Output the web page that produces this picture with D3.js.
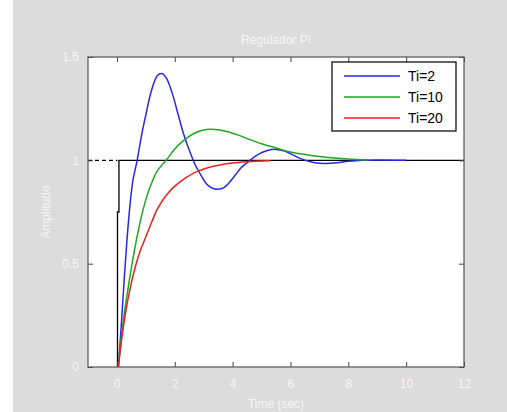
<!DOCTYPE html>
<html>
<head>
<meta charset="utf-8">
<script src="https://cdn.jsdelivr.net/npm/d3@7"></script>
<style>
  body { margin: 0; background: #fff; }
  svg { display: block; font-family: "Liberation Sans", Arial, sans-serif; }
  .axis text { fill: #f6f6f6; font-size: 12px; }
</style>
</head>
<body>
<svg id="chart"></svg>
<script>
// step responses, [t, amplitude]
const ti2 = [[0.05,0],[0.15,0.2],[0.25,0.42],[0.35,0.62],[0.45,0.78],[0.55,0.9],[0.7,1.0],[0.85,1.12],[1.0,1.22],
  [1.2,1.34],[1.4,1.41],[1.55,1.42],[1.7,1.4],[1.9,1.33],[2.1,1.23],[2.3,1.13],[2.5,1.05],[2.7,0.98],[2.9,0.93],
  [3.1,0.885],[3.3,0.865],[3.5,0.86],[3.7,0.868],[3.9,0.895],[4.1,0.93],[4.3,0.965],[4.6,1.0],[4.9,1.03],
  [5.2,1.048],[5.5,1.053],[5.8,1.045],[6.1,1.025],[6.4,1.006],[6.8,0.99],[7.2,0.985],[7.6,0.988],[8.0,0.995],
  [8.5,1.0],[9.0,1.002],[10.0,1.0]];
const ti10 = [[0.05,0],[0.2,0.2],[0.43,0.42],[0.6,0.56],[0.8,0.7],[1.0,0.81],[1.2,0.89],[1.4,0.95],[1.7,1.0],
  [2.0,1.055],[2.3,1.095],[2.6,1.125],[2.9,1.143],[3.2,1.15],[3.5,1.148],[3.8,1.14],[4.2,1.122],[4.6,1.1],
  [5.0,1.08],[5.5,1.06],[6.0,1.04],[6.5,1.028],[7.0,1.018],[7.5,1.011],[8.0,1.006],[8.7,1.002]];
const ti20 = [[0.05,0],[0.25,0.22],[0.52,0.42],[0.8,0.56],[1.0,0.63],[1.2,0.7],[1.4,0.765],[1.7,0.83],
  [2.0,0.875],[2.4,0.918],[2.8,0.948],[3.2,0.967],[3.6,0.979],[4.0,0.987],[4.5,0.993],[5.0,0.997],[5.3,0.998]];
const stepRef = [[0.02,0],[0.02,0.75],[0.07,0.75],[0.07,1],[12,1]];
const stepPre = [[-1,1],[0.02,1]];

const seriesNames = ["Ti=2", "Ti=10", "Ti=20"];
const seriesColors = ["#2727e6", "#1fa81f", "#e82020"];
const seriesData = [ti2, ti10, ti20];

const xTicks = [0, 2, 4, 6, 8, 10, 12];
const yTicks = [0, 0.5, 1, 1.5];

const W = 507, H = 412;
const svg = d3.select("#chart").attr("width", W).attr("height", H);

svg.append("rect").attr("x", 13).attr("y", 0).attr("width", W - 13).attr("height", H).attr("fill", "#dcdcdc");

const plot = {left: 88, top: 57, right: 464, bottom: 367};
const x = d3.scaleLinear().domain([-1, 12]).range([plot.left, plot.right]);
const y = d3.scaleLinear().domain([0, 1.5]).range([plot.bottom, plot.top]);

svg.append("rect")
  .attr("x", plot.left).attr("y", plot.top)
  .attr("width", plot.right - plot.left).attr("height", plot.bottom - plot.top)
  .attr("fill", "#fff");

const line = d3.line().x(d => x(d[0])).y(d => y(d[1]));
const smooth = d3.line().x(d => x(d[0])).y(d => y(d[1])).curve(d3.curveCatmullRom.alpha(0.5));

// reference step
svg.append("path").datum(stepPre).attr("d", line)
  .attr("fill", "none").attr("stroke", "#000").attr("stroke-width", 1.3).attr("stroke-dasharray", "4,3");
svg.append("path").datum(stepRef).attr("d", line)
  .attr("fill", "none").attr("stroke", "#000").attr("stroke-width", 1.3);

seriesData.forEach((s, i) => {
  svg.append("path").datum(s).attr("d", smooth)
    .attr("fill", "none").attr("stroke", seriesColors[i]).attr("stroke-width", 1.5);
});

// axes: labels outside, ticks inside on all sides
svg.append("g").attr("class", "axis")
  .attr("transform", `translate(0,${plot.bottom})`)
  .call(d3.axisBottom(x).tickValues(xTicks).tickSize(-5).tickPadding(12));
svg.append("g").attr("class", "axis")
  .attr("transform", `translate(${plot.left},0)`)
  .call(d3.axisLeft(y).tickValues(yTicks).tickFormat(d3.format("")).tickSize(-5).tickPadding(9));
svg.append("g").attr("transform", `translate(0,${plot.top})`)
  .call(d3.axisTop(x).tickValues(xTicks).tickSize(-5).tickFormat(""));
svg.append("g").attr("transform", `translate(${plot.right},0)`)
  .call(d3.axisRight(y).tickValues(yTicks).tickSize(-5).tickFormat(""));
svg.selectAll(".domain").remove();
svg.selectAll(".tick line").attr("stroke", "#444");

svg.append("rect")
  .attr("x", plot.left).attr("y", plot.top)
  .attr("width", plot.right - plot.left).attr("height", plot.bottom - plot.top)
  .attr("fill", "none").attr("stroke", "#555").attr("stroke-width", 1.2);

// titles
svg.append("text").attr("x", (plot.left + plot.right) / 2).attr("y", 44)
  .attr("text-anchor", "middle").attr("fill", "#f6f6f6").attr("font-size", 12).text("Regulador PI");
svg.append("text").attr("x", (plot.left + plot.right) / 2).attr("y", 408)
  .attr("text-anchor", "middle").attr("fill", "#f6f6f6").attr("font-size", 12).text("Time (sec)");
svg.append("text").attr("transform", `translate(50,${(plot.top + plot.bottom) / 2}) rotate(-90)`)
  .attr("text-anchor", "middle").attr("fill", "#f6f6f6").attr("font-size", 12).text("Amplitude");

// legend
const leg = svg.append("g").attr("transform", "translate(332,62)");
leg.append("rect").attr("width", 124).attr("height", 69)
  .attr("fill", "#fff").attr("stroke", "#111").attr("stroke-width", 1.3);
seriesNames.forEach((n, i) => {
  const ly = 14 + i * 21;
  leg.append("line").attr("x1", 12).attr("x2", 68).attr("y1", ly).attr("y2", ly)
    .attr("stroke", seriesColors[i]).attr("stroke-width", 1.5);
  leg.append("text").attr("x", 76).attr("y", ly + 5).attr("font-size", 14).attr("fill", "#000").text(n);
});
</script>
</body>
</html>
